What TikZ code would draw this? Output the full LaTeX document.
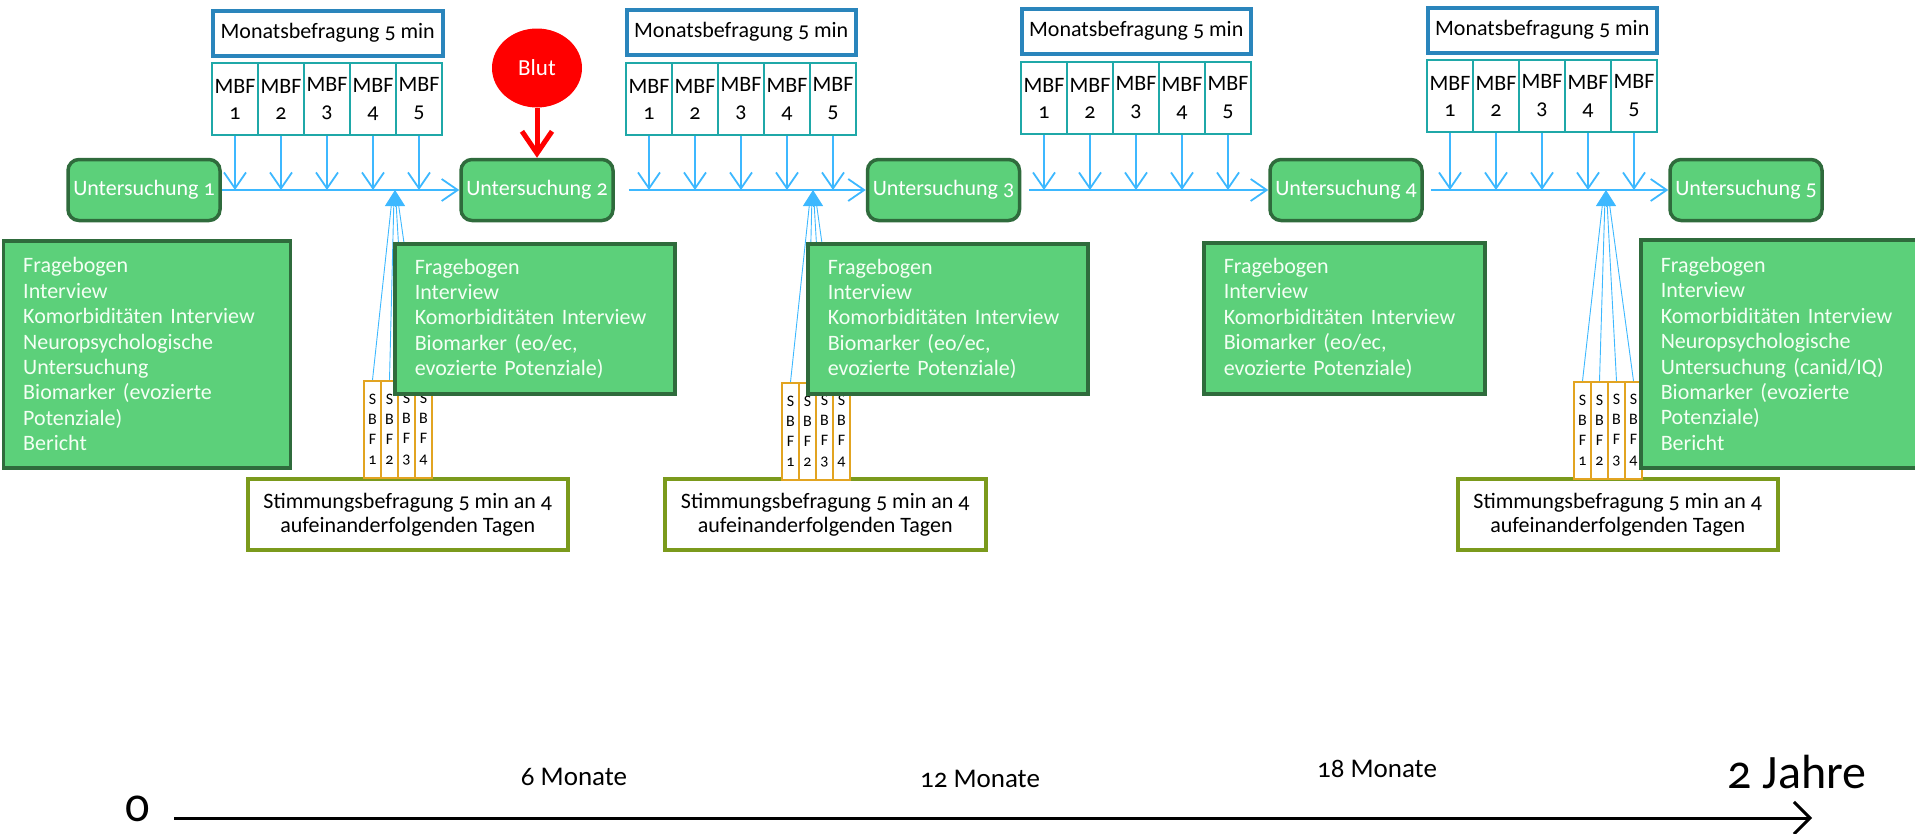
\documentclass[tikz,border=0pt]{standalone}
\usepackage{fontspec}
\setmainfont{Carlito}[Numbers=OldStyle]
\usetikzlibrary{arrows.meta,shapes.geometric,calc}
\definecolor{ugreen}{HTML}{5CD07A}
\definecolor{ugreenD}{HTML}{2F6B3C}
\definecolor{monblue}{HTML}{2A85BC}
\definecolor{mbfteal}{HTML}{1FA8A8}
\definecolor{arrblue}{HTML}{3DB8FF}
\definecolor{sbforange}{HTML}{E2A421}
\definecolor{stimolive}{HTML}{7B9A1C}
\definecolor{boxtext}{HTML}{F4FFF4}
\newcommand{\myfs}[2]{\fontsize{#1}{#2}\selectfont}
\tikzset{
  unt/.style={draw=ugreenD, line width=3.5pt, fill=ugreen, rounded corners=11pt,
    minimum width=152pt, minimum height=61pt, inner sep=0pt, text=white, font=\myfs{22}{26}},
  monbox/.style={draw=monblue, line width=3.5pt, fill=white, anchor=north west,
    minimum width=229pt, minimum height=45pt, inner sep=0pt, font=\myfs{22}{26}},
  mbfbox/.style={draw=mbfteal, line width=2pt, fill=white, anchor=north west,
    minimum width=46pt, minimum height=72pt, inner sep=0pt, align=center, font=\myfs{22}{26}},
  bigbox/.style={draw=ugreenD, line width=3.5pt, fill=ugreen, anchor=north west,
    inner xsep=20pt, inner ysep=0pt, align=left, text=boxtext, font=\myfs{22}{25.4}},
  sbfbox/.style={draw=sbforange, line width=2pt, fill=white, anchor=north west,
    minimum width=17pt, minimum height=97pt, inner sep=0pt, align=center, font=\myfs{16}{20}},
  stimbox/.style={draw=stimolive, line width=3.5pt, fill=white, anchor=north west,
    minimum width=320pt, minimum height=71pt, inner sep=0pt, align=center, font=\myfs{22}{24}},
  barrow/.style={draw=arrblue, line width=1.8pt, -{Straight Barb[length=16pt,width=22pt,line width=1.8pt]}},
  conv/.style={draw=arrblue, line width=0.9pt},
  tri/.style={draw=arrblue, line width=0.9pt, -{Triangle[length=16pt,width=20pt]}},
  redarrow/.style={draw=red, line width=5pt, -{Straight Barb[length=22pt,width=30pt,line width=5pt]}},
  axisarrow/.style={draw=black, line width=3pt, -{Straight Barb[length=16pt,width=32pt,line width=3pt]}},
  blutnode/.style={ellipse, fill=red, minimum width=90pt, minimum height=79pt, inner sep=0pt,
    text=white, font=\myfs{23}{26}},
  axlabel/.style={font=\myfs{27}{30}},
  biglabel/.style={font=\myfs{48}{50}}
}
\begin{document}
\begin{tikzpicture}[x=1pt,y=-1pt]
\useasboundingbox (0,0) rectangle (1915,833);

% Untersuchungen
\node[unt] (u1) at (144,190) {Untersuchung 1};
\node[unt] (u2) at (537,190) {Untersuchung 2};
\node[unt] (u3) at (943.5,190) {Untersuchung 3};
\node[unt] (u4) at (1346,190) {Untersuchung 4};
\node[unt] (u5) at (1746,190) {Untersuchung 5};

% Monatsbefragungen
\node[monbox, minimum width=230pt] (mon1) at (211,9) {Monatsbefragung 5 min};
\node[monbox] (mon2) at (625,8) {Monatsbefragung 5 min};
\node[monbox] (mon3) at (1020,7) {Monatsbefragung 5 min};
\node[monbox] (mon4) at (1426,6) {Monatsbefragung 5 min};

\foreach \g/\x/\y/\ua in {1/211/62/u1, 2/625/62/u2, 3/1020/61/u3, 4/1426/59/u4}{
  \foreach \i in {1,...,5}{
    \node[mbfbox] (mbf\g-\i) at ({\x+46*(\i-1)},\y) {MBF\\\i};
    \draw[barrow] (mbf\g-\i.south) -- (mbf\g-\i.south |- \ua.east);
  }
}

% timeline arrows
\draw[barrow] (u1.east) -- (u2.west);
\draw[barrow, shorten <=14pt] (u2.east) -- (u3.west);
\draw[barrow, shorten <=8pt] (u3.east) -- (u4.west);
\draw[barrow, shorten <=7pt] (u4.east) -- (u5.west);

% Blut
\node[blutnode] (blut) at (537,68) {Blut};
\draw[redarrow] (blut.south) -- (u2.north);

% Stimmungsbefragung
\node[stimbox] (st1) at (246,477) {Stimmungsbefragung 5 min an 4\\aufeinanderfolgenden Tagen};
\node[stimbox, minimum width=321pt] (st2) at (663,477) {Stimmungsbefragung 5 min an 4\\aufeinanderfolgenden Tagen};
\node[stimbox] (st3) at (1456,477) {Stimmungsbefragung 5 min an 4\\aufeinanderfolgenden Tagen};

\coordinate (tip1) at (395,190);
\coordinate (tip2) at (813,190);
\coordinate (tip3) at (1606,190);
\foreach \g/\x/\y in {1/363/380, 2/781/382, 3/1573/381}{
  \coordinate (base\g) at ($(tip\g)+(0,16)$);
  \foreach \i in {1,...,4}{
    \node[sbfbox] (sbf\g-\i) at ({\x+17*(\i-1)},\y) {S\\B\\F\\\i};
    \draw[conv] (sbf\g-\i.north) -- ($(base\g)+({(\i-2.5)*2.5},0)$);
  }
  \draw[tri] (base\g) -- (tip\g);
}

% big boxes
\node[bigbox, minimum width=287pt, minimum height=227pt, text width=247pt] (bA) at (1.5,239)
  {Fragebogen\\Interview\\Komorbiditäten Interview\\Neuropsychologische\\Untersuchung\\Biomarker (evozierte\\Potenziale)\\Bericht};
\node[bigbox, minimum width=280pt, minimum height=150pt, text width=240pt] (bB) at (393,242)
  {Fragebogen\\Interview\\Komorbiditäten Interview\\Biomarker (eo/ec,\\evozierte Potenziale)};
\node[bigbox, minimum width=280pt, minimum height=150pt, text width=240pt] (bC) at (806,242)
  {Fragebogen\\Interview\\Komorbiditäten Interview\\Biomarker (eo/ec,\\evozierte Potenziale)};
\node[bigbox, minimum width=281pt, minimum height=151pt, text width=241pt] (bD) at (1202,241)
  {Fragebogen\\Interview\\Komorbiditäten Interview\\Biomarker (eo/ec,\\evozierte Potenziale)};
\node[bigbox, minimum width=300pt, minimum height=228pt, text width=260pt] (bE) at (1639,238)
  {Fragebogen\\Interview\\Komorbiditäten Interview\\Neuropsychologische\\Untersuchung (canid/IQ)\\Biomarker (evozierte\\Potenziale)\\Bericht};

% time axis
\node[biglabel, anchor=base, inner sep=0pt] (zero) at (138,821) {0};
\coordinate (axs) at (174,818);
\coordinate (axe) at (1812,818);
\draw[axisarrow] (axs) -- (axe);
\node[axlabel] (m6) at (574,777) {6 Monate};
\node[axlabel] (m12) at (980,779) {12 Monate};
\node[axlabel] (m18) at (1377,769) {18 Monate};
\node[biglabel] (jahre) at (1797,772) {2 Jahre};
\end{tikzpicture}
\end{document}
